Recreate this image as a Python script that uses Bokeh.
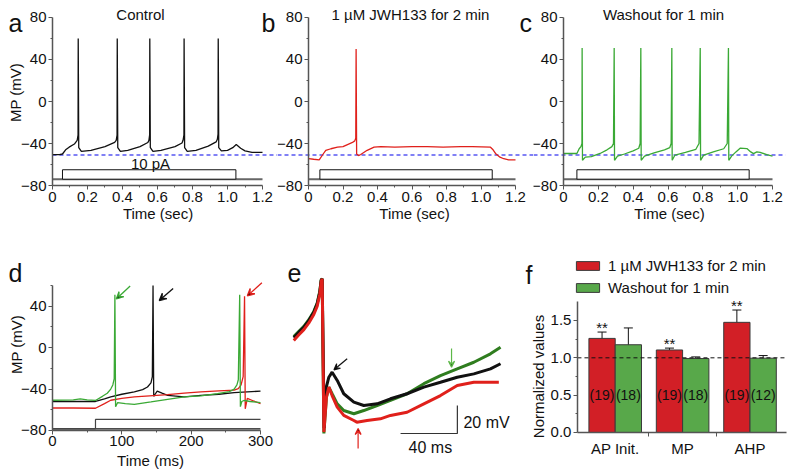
import math
from bokeh.plotting import figure
from bokeh.layouts import column, row
from bokeh.models import (Label, Arrow, VeeHead, FixedTicker, Legend, LegendItem,
                          ColumnDataSource, Whisker, TeeHead, Range1d)
from bokeh.core.properties import value
from bokeh.embed import file_html
from bokeh.resources import INLINE

FONT = "Liberation Sans"
TICK_FS = "15px"
AXLAB_FS = "15px"
TITLE_FS = "15px"

# ---------------- data: panel a (Control) ----------------
a_time = [0.000, 0.040, 0.057, 0.075, 0.095, 0.125, 0.141, 0.146, 0.147, 0.150, 0.165,
          0.220, 0.300, 0.355, 0.364, 0.369, 0.370, 0.373, 0.388,
          0.430, 0.500, 0.545, 0.551, 0.555, 0.556, 0.559, 0.574,
          0.620, 0.700, 0.740, 0.746, 0.751, 0.752, 0.755, 0.770,
          0.820, 0.890, 0.935, 0.942, 0.946, 0.947, 0.950, 0.965,
          1.000, 1.030, 1.050, 1.075, 1.100, 1.140, 1.200]
a_mp = [-50.5, -50.5, -50.0, -46.0, -43.5, -40.5, -37.0, -32.0, 60.0, -44.0, -47.5,
        -46.5, -43.0, -39.0, -37.0, -32.0, 60.0, -44.0, -47.5,
        -46.5, -43.0, -39.0, -37.0, -32.0, 60.0, -44.0, -47.5,
        -46.5, -43.0, -39.5, -37.0, -32.0, 60.0, -44.0, -47.5,
        -46.5, -42.5, -38.5, -36.0, -31.0, 60.0, -44.0, -47.0,
        -46.5, -44.0, -41.0, -44.5, -47.0, -48.5, -48.5]

# ---------------- panel b (1 uM JWH133 for 2 min) ----------------
b_time = [0.000, 0.030, 0.062, 0.085, 0.100, 0.130, 0.168, 0.200, 0.226, 0.255, 0.268, 0.274,
          0.276, 0.279, 0.290, 0.303, 0.340, 0.380, 0.420, 0.500, 0.600, 0.689, 0.780, 0.882,
          0.950, 1.055, 1.070, 1.084, 1.110, 1.132, 1.160, 1.200]
b_mp = [-54.5, -55.0, -55.5, -50.0, -46.5, -45.0, -43.5, -43.0, -41.0, -39.0, -37.5, -35.0,
        50.0, -50.0, -51.5, -50.5, -46.5, -43.5, -43.0, -43.5, -43.0, -43.0, -43.5, -43.0,
        -43.0, -43.5, -46.0, -49.5, -53.0, -54.5, -55.5, -55.5]

# ---------------- panel c (Washout for 1 min) ----------------
c_time = [0.000, 0.040, 0.077, 0.090, 0.100, 0.106, 0.107, 0.109, 0.125,
          0.160, 0.210, 0.250, 0.278, 0.287, 0.291, 0.293, 0.310,
          0.350, 0.400, 0.432, 0.440, 0.444, 0.446, 0.465,
          0.520, 0.580, 0.610, 0.618, 0.622, 0.624, 0.640,
          0.700, 0.760, 0.778, 0.785, 0.787, 0.805,
          0.860, 0.920, 0.940, 0.947, 0.949, 0.965,
          0.990, 1.014, 1.053, 1.075, 1.091, 1.110, 1.129, 1.167, 1.200]
c_mp = [-49.5, -49.5, -49.5, -45.0, -43.0, -40.0, 51.0, -56.0, -53.0,
        -52.5, -49.5, -46.0, -43.0, -40.0, 51.0, -56.0, -52.0,
        -50.0, -47.0, -44.5, -40.0, 51.0, -56.0, -52.0,
        -49.0, -46.0, -44.0, -40.0, 51.0, -56.0, -51.0,
        -48.5, -45.5, -40.0, 51.0, -56.0, -51.0,
        -48.0, -45.0, -40.0, 51.0, -56.0, -52.0,
        -48.0, -44.5, -44.8, -48.0, -49.6, -48.0, -48.5, -50.6, -52.0]

# current step (10 pA) on/off times for a, b, c
stim_on = [0.057, 0.066, 0.077]
stim_off = [1.048, 1.065, 1.066]
stim_low, stim_high = -74.0, -65.0
rmp_ref = -51.0

# ---------------- panel d (first spikes, ms) ----------------
d_black_t = [0, 30, 62, 75, 84, 100, 118, 130, 137, 142, 144, 145, 146, 148, 151, 158, 166,
             190, 214, 240, 262, 300]
d_black_v = [-52.0, -52.0, -52.0, -49.5, -47.5, -45.0, -42.7, -40.5, -38.0, -34.0, -28.0, 60.0,
             -47.0, -45.0, -42.0, -44.0, -46.0, -47.5, -46.0, -45.0, -43.5, -42.0]
d_green_t = [0, 30, 40, 50, 62, 72, 79, 84, 87, 89, 90, 91, 94, 105, 118, 142, 166, 190, 214,
             238, 255, 262, 266, 268, 270, 271, 273, 276, 285, 300]
d_green_v = [-50.8, -50.5, -49.5, -50.5, -51.0, -47.0, -44.0, -40.0, -36.0, -30.0, 51.0, -57.0,
             -53.0, -54.0, -54.7, -52.4, -50.0, -47.6, -46.5, -44.3, -42.5, -40.0, -36.0, -31.0,
             51.0, -57.0, -52.0, -51.0, -52.0, -53.0]
d_red_t = [0, 30, 62, 75, 84, 100, 118, 140, 166, 190, 214, 240, 262, 268, 272, 275, 277,
           278, 281, 290, 300]
d_red_v = [-58.3, -58.3, -58.5, -54.0, -50.8, -49.0, -47.6, -46.5, -45.3, -44.0, -42.7, -41.8,
           -41.0, -39.5, -36.0, -28.0, 49.7, -59.0, -49.0, -51.5, -54.0]
d_stim_on = 62
d_stim_low, d_stim_high = -78.4, -69.3

# ---------------- panel e (AHP close-up, ms / mV; spike top cut off) ----------------
e_black_t = [0.2, 3.8, 7.3, 10.8, 14.3, 16.7, 18.5, 19.5, 20.2, 21.6, 22.5, 24.9, 27.2, 30.8,
             35.4, 42.5, 49.5, 58.9, 68.3, 80.0, 91.8, 103.5, 115.3, 127.0, 138.7, 145.8]
e_black_v = [-1.6, 2.4, 5.9, 10.7, 16.6, 22.6, 30.9, 39.3, 40.5, -66.0, -39.3, -29.8, -26.2,
             -32.1, -41.6, -47.6, -50.0, -48.8, -45.2, -41.6, -36.9, -33.4, -29.8, -27.4,
             -23.8, -20.2]
e_green_t = [0.2, 3.8, 7.3, 10.8, 14.3, 16.7, 18.5, 19.5, 20.2, 21.4, 23.2, 24.9, 27.2, 30.8,
             35.4, 42.5, 49.5, 58.9, 68.3, 80.0, 91.8, 103.5, 115.3, 127.0, 138.7, 145.8]
e_green_v = [-0.8, 3.0, 6.5, 11.3, 17.2, 23.2, 31.5, 39.8, 40.5, -70.0, -44.0, -36.9, -41.6,
             -48.8, -53.6, -55.9, -53.6, -50.0, -46.4, -41.6, -34.4, -28.6, -23.8, -19.1,
             -13.1, -8.4]
e_red_t = [0.2, 3.8, 7.3, 10.8, 14.3, 16.7, 18.5, 19.5, 20.2, 21.4, 23.2, 24.9, 27.2, 30.8,
           35.4, 42.5, 44.6, 51.8, 61.2, 68.3, 80.0, 91.8, 103.5, 115.3, 127.0, 144.6]
e_red_v = [-3.5, 0.5, 4.2, 9.0, 15.0, 21.0, 29.5, 38.5, 40.5, -69.0, -44.0, -36.9, -42.9,
           -51.2, -57.1, -60.7, -61.9, -60.7, -59.5, -57.1, -54.8, -48.8, -42.9, -35.7,
           -33.4, -33.4]
e_bar_x0, e_bar_y0 = 75.4, -70.0
e_bar_ms, e_bar_mv = 40, 20

# ---------------- panel f (normalized values) ----------------
groups = ["AP Init.", "MP", "AHP"]
jwh_mean = [1.26, 1.105, 1.475]
jwh_err = [0.085, 0.025, 0.165]
wash_mean = [1.175, 0.99, 0.995]
wash_err = [0.225, 0.022, 0.035]
jwh_n = ["(19)", "(19)", "(19)"]
wash_n = ["(18)", "(18)", "(12)"]
jwh_sig = ["**", "**", "**"]

BLACK = "#111111"
RED = "#e0201b"
GREEN = "#3aa935"
EGREEN = "#2f7d1f"
BAR_RED = "#d21f26"
BAR_GREEN = "#58a84a"
AXIS = "#555555"
BLUE = "#5757f2"

# axis extents (data units) for each panel
TOP_X = (0, 1.2)
TOP_Y = (-80, 80)
D_X = (0, 300)
D_Y = (-80, 60)
F_X = (-0.56, 2.54)
F_Y = (0, 1.75)


def make_fig(w, h, xr, yr, axes=True):
    p = figure(width=w, height=h, x_range=Range1d(*xr), y_range=Range1d(*yr),
               output_backend="svg", toolbar_location=None,
               min_border_left=0, min_border_right=0, min_border_top=0, min_border_bottom=0,
               x_axis_type="linear" if axes else None, y_axis_type="linear" if axes else None,
               background_fill_color="white", border_fill_color="white")
    p.outline_line_color = None
    if axes:
        p.xgrid.grid_line_color = None
        p.ygrid.grid_line_color = None
        for ax in (p.xaxis, p.yaxis):
            ax.axis_line_color = AXIS
            ax.axis_line_width = 1.5
            ax.major_tick_line_color = AXIS
            ax.minor_tick_line_color = AXIS
            ax.major_tick_in = 0
            ax.minor_tick_in = 0
            ax.major_tick_out = 4
            ax.minor_tick_out = 2
            ax.major_label_text_font = FONT
            ax.major_label_text_font_size = TICK_FS
            ax.major_label_text_color = BLACK
            ax.major_label_standoff = 2
    return p


def fix_axes(p, xext, yext):
    p.xaxis.fixed_location = yext[0]
    p.xaxis.bounds = xext
    p.yaxis.fixed_location = xext[0]
    p.yaxis.bounds = yext


def label(p, x, y, text, size="14px", align="center", baseline="middle", angle=0.0, color=BLACK):
    p.add_layout(Label(x=x, y=y, text=text, text_font=FONT, text_font_size=size,
                       text_align=align, text_baseline=baseline, angle=angle, text_color=color))


top_xticks = [0, 0.2, 0.4, 0.6, 0.8, 1.0, 1.2]
top_xlabels = ["0", "0.2", "0.4", "0.6", "0.8", "1.0", "1.2"]
top_xminor = [0.1, 0.3, 0.5, 0.7, 0.9, 1.1]
mp_ticks = [-80, -40, 0, 40, 80]
mp_minor = [-60, -20, 20, 60]

TOP_H = 240
BOT_H = 235


def trace_panel(w, xr, t, v, color, idx, title, title_x, tlab_x, dash_x):
    p = make_fig(w, TOP_H, xr, (-132.38, 96.19))
    fix_axes(p, TOP_X, TOP_Y)
    p.xaxis.ticker = FixedTicker(ticks=top_xticks, minor_ticks=top_xminor)
    p.xaxis.major_label_overrides = dict(zip(top_xticks, top_xlabels))
    p.yaxis.ticker = FixedTicker(ticks=mp_ticks, minor_ticks=mp_minor)
    # stimulus baseline and step
    p.line(list(TOP_X), [stim_low, stim_low], line_color="#666666", line_width=2)
    p.quad(left=[stim_on[idx]], right=[stim_off[idx]], bottom=[stim_low], top=[stim_high],
           fill_color="white", line_color=BLACK, line_width=1)
    p.line(list(dash_x), [rmp_ref, rmp_ref], line_color=BLUE, line_dash="4 3", line_width=1.5)
    p.line(t, v, line_color=color, line_width=1.3)
    label(p, title_x, 82.9, title, size=TITLE_FS)
    label(p, tlab_x, -106.7, "Time (sec)", size=AXLAB_FS)
    return p


def letter(p, x, y, text):
    label(p, x, y, text, size="25px", align="left", baseline="alphabetic")


pa_xr = (-0.2971, 1.2857)
pb_xr = (-0.1797, 1.3043)
pc_xr = (-0.1722, 1.2918)
pa = trace_panel(277, pa_xr, a_time, a_mp, BLACK, 0, "Control", 0.503, 0.603, (0, pa_xr[1]))
label(pa, 0.56, -59.0, "10 pA", size="15px")
label(pa, -0.2086, 8.6, "MP (mV)", size=AXLAB_FS, angle=math.pi / 2)
letter(pa, -0.2514, 74.3, "a")
letter(pa, 1.1943, 74.3, "b")   # sits in the gap left of panel b
pb = trace_panel(256, pb_xr, b_time, b_mp, RED, 1, "1 µM JWH133 for 2 min", 0.591, 0.6145, pb_xr)
letter(pb, 1.2232, 74.3, "c")   # sits in the gap left of panel c
pc = trace_panel(255, pc_xr, c_time, c_mp, GREEN, 2, "Washout for 1 min", 0.574, 0.6086,
                 (pc_xr[0], 1.275))

# ---------------- panel d ----------------
pd = make_fig(285, BOT_H, (-75.0, 336.06), (-123.45, 103.45))
fix_axes(pd, D_X, D_Y)
pd.xaxis.ticker = FixedTicker(ticks=[0, 100, 200, 300], minor_ticks=[50, 150, 250])
pd.yaxis.ticker = FixedTicker(ticks=[-80, -40, 0, 40], minor_ticks=[-60, -20, 20, 60])
pd.line(list(D_X), [d_stim_low, d_stim_low], line_color=BLACK, line_width=1.2)
pd.line([D_X[0], d_stim_on, d_stim_on, D_X[1]], [d_stim_low, d_stim_low, d_stim_high, d_stim_high],
        line_color="#444444", line_width=1.2)
pd.line(d_black_t, d_black_v, line_color=BLACK, line_width=1.3)
pd.line(d_red_t, d_red_v, line_color=RED, line_width=1.3)
pd.line(d_green_t, d_green_v, line_color=GREEN, line_width=1.3)
for (xs, ys, xe, ye, col) in [(112, 59.5, 92, 47.0, GREEN), (174, 57.0, 154, 45.5, BLACK),
                              (302, 62.7, 281, 50.0, RED)]:
    pd.add_layout(Arrow(end=VeeHead(size=7, line_color=col, line_width=1.3),
                        x_start=xs, y_start=ys, x_end=xe, y_end=ye,
                        line_color=col, line_width=1.3))
letter(pd, -63.5, 71.6, "d")
label(pd, -52.6, 3.0, "MP (mV)", size=AXLAB_FS, angle=math.pi / 2)
label(pd, 141.4, -109.0, "Time (ms)", size=AXLAB_FS)

# ---------------- panel e ----------------
pe = make_fig(235, BOT_H, (-5.63, 159.86), (-100.0, 67.86), axes=False)
pe.line(e_green_t, e_green_v, line_color=EGREEN, line_width=3)
pe.line(e_black_t, e_black_v, line_color=BLACK, line_width=3)
pe.line(e_red_t, e_red_v, line_color=RED, line_width=3)
pe.line([e_bar_x0, e_bar_x0 + e_bar_ms, e_bar_x0 + e_bar_ms],
        [e_bar_y0, e_bar_y0, e_bar_y0 + e_bar_mv], line_color="#333333", line_width=1.2)
label(pe, e_bar_x0 + e_bar_ms + 4.3, e_bar_y0 + 7.9, "20 mV", size="16px", align="left")
label(pe, e_bar_x0 + e_bar_ms / 2 + 1.0, e_bar_y0 - 10.0, "40 ms", size="16px")
for (xs, ys, xe, ye, col) in [(37.8, -16.6, 28.5, -24.5, BLACK), (111.3, -9.3, 111.3, -22.6, "#5cb848"),
                              (45.5, -80.7, 45.5, -66.4, RED)]:
    pe.add_layout(Arrow(end=VeeHead(size=6, line_color=col, line_width=1.2),
                        x_start=xs, y_start=ys, x_end=xe, y_end=ye,
                        line_color=col, line_width=1.2))
letter(pe, -4.2, 44.3, "e")

# ---------------- panel f ----------------
pf = make_fig(268, BOT_H, (-1.405, 2.571), (-0.576, 2.571))
fix_axes(pf, F_X, F_Y)
gx = list(range(len(groups)))
bw = 0.39
red_x = [g - bw / 2 for g in gx]
green_x = [g + bw / 2 for g in gx]
pf.xaxis.ticker = FixedTicker(ticks=gx, minor_ticks=[0.5, 1.5])
pf.xaxis.major_label_overrides = dict(zip(gx, groups))
pf.xaxis.major_tick_out = 0
pf.xaxis.minor_tick_out = 4
pf.xaxis.major_label_standoff = 4
pf.yaxis.ticker = FixedTicker(ticks=[0, 0.5, 1.0, 1.5], minor_ticks=[0.25, 0.75, 1.25])
pf.yaxis.major_label_overrides = {0: "0.0", 0.5: "0.5", 1.0: "1.0", 1.5: "1.5"}

src_r = ColumnDataSource(dict(x=red_x, top=jwh_mean,
                              upper=[m + e for m, e in zip(jwh_mean, jwh_err)],
                              lower=[m - e for m, e in zip(jwh_mean, jwh_err)],
                              n=jwh_n, sig=jwh_sig,
                              sy=[m + e + 0.065 for m, e in zip(jwh_mean, jwh_err)],
                              ny=[0.5] * len(groups)))
src_g = ColumnDataSource(dict(x=green_x, top=wash_mean,
                              upper=[m + e for m, e in zip(wash_mean, wash_err)],
                              lower=[m - e for m, e in zip(wash_mean, wash_err)],
                              n=wash_n, ny=[0.5] * len(groups)))
r_red = pf.vbar(x="x", top="top", width=bw, bottom=0, source=src_r, fill_color=BAR_RED,
                line_color="#3a3a3a", line_width=1)
r_green = pf.vbar(x="x", top="top", width=bw, bottom=0, source=src_g, fill_color=BAR_GREEN,
                  line_color="#3a3a3a", line_width=1)
pf.line(list(F_X), [1.0, 1.0], line_color=BLACK, line_dash="4 3", line_width=1)
for src in (src_r, src_g):
    pf.add_layout(Whisker(base="x", upper="upper", lower="lower", source=src,
                          line_color=BLACK, line_width=1,
                          upper_head=TeeHead(size=9, line_color=BLACK, line_width=1),
                          lower_head=TeeHead(size=9, line_color=BLACK, line_width=1)))
    pf.text(x="x", y="ny", text="n", source=src, text_font=value(FONT),
            text_font_size="14px", text_align="center", text_baseline="middle",
            text_color=BLACK)
pf.text(x="x", y="sy", text="sig", source=src_r, text_font=value(FONT), text_font_size="15px",
        text_align="center", text_baseline="middle", text_color=BLACK)

legend = Legend(items=[LegendItem(label="1 µM JWH133 for 2 min", renderers=[r_red]),
                       LegendItem(label="Washout for 1 min", renderers=[r_green])],
                location=(53, 179), orientation="vertical", glyph_width=29, glyph_height=11,
                label_standoff=6, label_height=16, spacing=5, padding=0, margin=0,
                label_text_font=FONT, label_text_font_size="15px", label_text_color=BLACK,
                border_line_alpha=0, background_fill_alpha=0)
pf.add_layout(legend)
letter(pf, -1.331, 2.103, "f")
label(pf, -1.138, 0.75, "Normalized values", size=AXLAB_FS, angle=math.pi / 2)

layout = column(row(pa, pb, pc), row(pd, pe, pf))
open("out.html", "w").write(file_html(layout, INLINE))
